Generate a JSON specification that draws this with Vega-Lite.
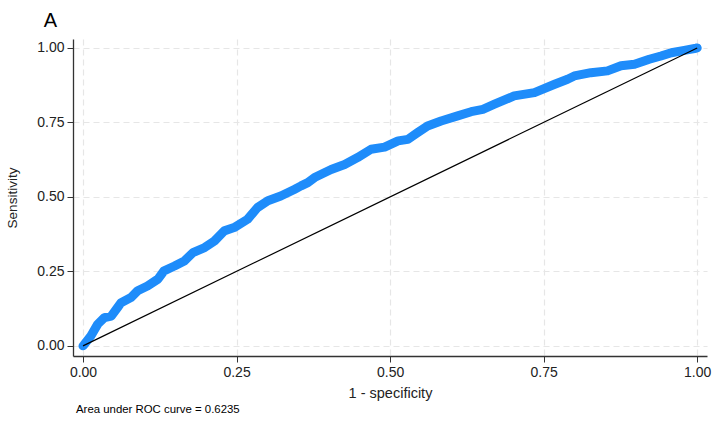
{
  "$schema": "https://vega.github.io/schema/vega-lite/v6.json",
  "background": "white",
  "padding": {"left": 5, "top": 11, "right": 5, "bottom": 5},
  "title": {"text": "A", "anchor": "start", "fontSize": 20, "fontWeight": "normal", "font": "Liberation Sans", "color": "black", "dx": 38, "offset": 8},
  "config": {"view": {"stroke": null}, "font": "Liberation Sans"},
  "datasets": {
    "roc": [
      {"fpr": 0, "tpr": 0},
      {"fpr": 0.001, "tpr": 0.002},
      {"fpr": 0.013, "tpr": 0.034},
      {"fpr": 0.024, "tpr": 0.073},
      {"fpr": 0.035, "tpr": 0.095},
      {"fpr": 0.046, "tpr": 0.1},
      {"fpr": 0.056, "tpr": 0.128},
      {"fpr": 0.062, "tpr": 0.145},
      {"fpr": 0.078, "tpr": 0.162},
      {"fpr": 0.089, "tpr": 0.185},
      {"fpr": 0.105, "tpr": 0.201},
      {"fpr": 0.122, "tpr": 0.224},
      {"fpr": 0.132, "tpr": 0.252},
      {"fpr": 0.149, "tpr": 0.268},
      {"fpr": 0.165, "tpr": 0.285},
      {"fpr": 0.179, "tpr": 0.313},
      {"fpr": 0.198, "tpr": 0.33},
      {"fpr": 0.214, "tpr": 0.352},
      {"fpr": 0.23, "tpr": 0.386},
      {"fpr": 0.246, "tpr": 0.397},
      {"fpr": 0.268, "tpr": 0.425},
      {"fpr": 0.284, "tpr": 0.464},
      {"fpr": 0.301, "tpr": 0.487},
      {"fpr": 0.322, "tpr": 0.503},
      {"fpr": 0.344, "tpr": 0.525},
      {"fpr": 0.355, "tpr": 0.537},
      {"fpr": 0.366, "tpr": 0.548},
      {"fpr": 0.377, "tpr": 0.565},
      {"fpr": 0.404, "tpr": 0.592},
      {"fpr": 0.426, "tpr": 0.609},
      {"fpr": 0.447, "tpr": 0.632},
      {"fpr": 0.469, "tpr": 0.66},
      {"fpr": 0.491, "tpr": 0.667},
      {"fpr": 0.513, "tpr": 0.688},
      {"fpr": 0.529, "tpr": 0.693},
      {"fpr": 0.545, "tpr": 0.716},
      {"fpr": 0.561, "tpr": 0.738},
      {"fpr": 0.583, "tpr": 0.755},
      {"fpr": 0.61, "tpr": 0.772},
      {"fpr": 0.632, "tpr": 0.786},
      {"fpr": 0.651, "tpr": 0.794},
      {"fpr": 0.67, "tpr": 0.811},
      {"fpr": 0.702, "tpr": 0.839},
      {"fpr": 0.735, "tpr": 0.85},
      {"fpr": 0.768, "tpr": 0.878},
      {"fpr": 0.789, "tpr": 0.895},
      {"fpr": 0.8, "tpr": 0.906},
      {"fpr": 0.827, "tpr": 0.917},
      {"fpr": 0.854, "tpr": 0.923},
      {"fpr": 0.876, "tpr": 0.94},
      {"fpr": 0.898, "tpr": 0.945},
      {"fpr": 0.922, "tpr": 0.962},
      {"fpr": 0.941, "tpr": 0.973},
      {"fpr": 0.958, "tpr": 0.984},
      {"fpr": 0.979, "tpr": 0.992},
      {"fpr": 0.998, "tpr": 0.999},
      {"fpr": 1, "tpr": 1}
    ],
    "ref": [
      {"fpr": 0, "tpr": 0},
      {"fpr": 1, "tpr": 1}
    ]
  },
  "vconcat": [
    {
      "width": 634,
      "height": 317,
      "title": {"text": "Area under ROC curve = 0.6235", "orient": "bottom", "anchor": "start", "frame": "group", "fontSize": 11.4, "fontWeight": "normal", "color": "black", "offset": 4, "dx": 3},
      "layer": [
        {
          "data": {"name": "roc"},
          "mark": {"type": "line", "color": "#1E8CFA", "strokeWidth": 9, "strokeCap": "round", "strokeJoin": "round"},
          "encoding": {
            "x": {
              "field": "fpr", "type": "quantitative",
              "scale": {"domain": [-0.0163, 1.016], "nice": false, "zero": false},
              "axis": {
                "title": "1 - specificity", "values": [0, 0.25, 0.5, 0.75, 1], "format": ".2f",
                "grid": true, "gridColor": "#e6e6e6", "gridDash": [6, 4], "gridWidth": 1.2,
                "domainColor": "#333", "domainWidth": 1.3, "tickColor": "#333", "tickSize": 6,
                "labelFontSize": 14, "labelColor": "#222", "labelPadding": 3,
                "titleFontSize": 14.5, "titleFontWeight": "normal", "titleColor": "#222", "titlePadding": 7
              }
            },
            "y": {
              "field": "tpr", "type": "quantitative",
              "scale": {"domain": [-0.034, 1.03], "nice": false, "zero": false},
              "axis": {
                "title": "Sensitivity", "values": [0, 0.25, 0.5, 0.75, 1], "format": ".2f",
                "grid": true, "gridColor": "#e6e6e6", "gridDash": [6, 4], "gridWidth": 1.2,
                "domainColor": "#333", "domainWidth": 1.3, "tickColor": "#333", "tickSize": 6,
                "labelFontSize": 14, "labelColor": "#222", "labelPadding": 3,
                "titleFontSize": 13.5, "titleFontWeight": "normal", "titleColor": "#222", "titlePadding": 17
              }
            }
          }
        },
        {
          "data": {"name": "ref"},
          "mark": {"type": "line", "color": "black", "strokeWidth": 1.2},
          "encoding": {
            "x": {"field": "fpr", "type": "quantitative"},
            "y": {"field": "tpr", "type": "quantitative"}
          }
        }
      ]
    }
  ]
}
